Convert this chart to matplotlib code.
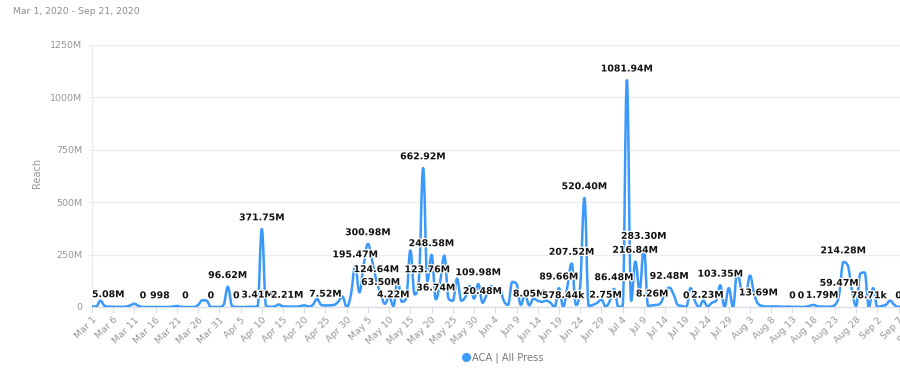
import datetime as dt
import numpy as np
import matplotlib
matplotlib.use("Agg")
import matplotlib.pyplot as plt
from matplotlib.path import Path
from matplotlib.patches import PathPatch
from matplotlib.lines import Line2D
import matplotlib.dates as mdates
import matplotlib.patheffects as pe

# ---------------- data ----------------
title_text = "Mar 1, 2020 - Sep 21, 2020"
series_name = "ACA | All Press"
y_label = "Reach"
start_date = dt.date(2020, 3, 1)

# daily reach in millions, Mar 1 .. Sep 21 2020
reach_m = [
    2, 3, 30, 5.08, 2, 1, 1, 1, 2, 8,                 # Mar 1-10
    15, 5, 0, 0, 0, 0, 0.000998, 0, 0, 2,             # Mar 11-20
    5, 1, 0, 0, 0, 10, 32, 30, 0, 0,                  # Mar 21-30
    0, 10, 96.62, 5, 0, 0, 0, 1, 1, 3.41,             # Mar 31-Apr 9
    371.75, 5, 1, 3, 12, 3, 2.21, 2, 2, 4,            # Apr 10-19
    8, 3, 10, 38, 10, 7.52, 8, 10, 25, 50,            # Apr 20-29
    0, 60, 195.47, 70, 200, 300.98, 220, 124.64, 63.50, 15,   # Apr 30-May 9
    50, 4.22, 130, 25, 40, 270, 60, 130, 662.92, 123.76,      # May 10-19
    248.58, 36.74, 120, 245, 40, 30, 135, 30, 50, 100,        # May 20-29
    40, 109.98, 20.48, 60, 100, 70, 90, 30, 10, 120,          # May 30-Jun 8
    110, 10, 60, 8.05, 40, 30, 25, 30, 20, 0,                 # Jun 9-18
    89.66, 0.57844, 100, 207.52, 10, 100, 520.40, 5, 10, 20,  # Jun 19-28
    35, 2.75, 30, 86.48, 0, 5, 1081.94, 30, 216.84, 80,       # Jun 29-Jul 8
    283.30, 5, 8.26, 10, 20, 70, 92.48, 60, 10, 5,            # Jul 9-18
    0, 90, 30, 0, 30, 2.23, 20, 30, 103.35, 0,                # Jul 19-28
    90, 0, 170, 80, 60, 150, 60, 13.69, 5, 2,                 # Jul 29-Aug 7
    2, 3, 2, 1, 2, 0, 1, 0, 1, 5,                             # Aug 8-17
    10, 3, 1.79, 1, 2, 10, 59.47, 214.28, 200, 80,            # Aug 18-27
    5, 160, 165, 0.07871, 90, 0, 5, 10, 30, 10,               # Aug 28-Sep 6
    0, 5, 10, 3, 2, 1, 2, 5, 3, 1,                            # Sep 7-16
    2, 4, 2, 1, 3,                                            # Sep 17-21
]

# days whose data labels are visible (others hidden as overlapping)
labeled_days = [3, 12, 16, 22, 28, 32, 34, 39, 40, 46, 55, 62, 65, 67, 68, 71,
                78, 79, 80, 81, 91, 92, 103, 110, 111, 113, 116, 121, 123, 126,
                128, 130, 132, 136, 140, 145, 148, 157, 165, 167, 172, 176,
                177, 183, 190]

y_ticks_m = [0, 250, 500, 750, 1000, 1250]
x_tick_step_days = 5

# ---------------- styling ----------------
LINE_COLOR = "#3a99fb"
GRAY = "#969696"
GRID = "#ececec"
AXIS = "#d7dce6"

plt.rcParams["font.family"] = ["DejaVu Sans"]

dates = [start_date + dt.timedelta(days=i) for i in range(len(reach_m))]
x = mdates.date2num(dates)
y = np.array(reach_m) * 1e6


def hc_spline_path(xs, ys, smoothing=1.5):
    """Highcharts-style spline as cubic Bezier path."""
    n = len(xs)
    denom = smoothing + 1
    lc = np.column_stack([xs, ys]).astype(float)
    rc = lc.copy()
    for i in range(1, n - 1):
        lx, ly, px, py, nx, ny = xs[i - 1], ys[i - 1], xs[i], ys[i], xs[i + 1], ys[i + 1]
        lcx = (smoothing * px + lx) / denom
        lcy = (smoothing * py + ly) / denom
        rcx = (smoothing * px + nx) / denom
        rcy = (smoothing * py + ny) / denom
        if rcx != lcx:
            corr = ((rcy - lcy) * (rcx - px)) / (rcx - lcx) + py - rcy
            lcy += corr
            rcy += corr
        if lcy > ly and lcy > py:
            lcy = max(ly, py); rcy = 2 * py - lcy
        elif lcy < ly and lcy < py:
            lcy = min(ly, py); rcy = 2 * py - lcy
        if rcy > ny and rcy > py:
            rcy = max(ny, py); lcy = 2 * py - rcy
        elif rcy < ny and rcy < py:
            rcy = min(ny, py); lcy = 2 * py - rcy
        lc[i] = (lcx, lcy)
        rc[i] = (rcx, rcy)
    verts = [(xs[0], ys[0])]
    codes = [Path.MOVETO]
    for i in range(1, n):
        verts += [tuple(rc[i - 1]), tuple(lc[i]), (xs[i], ys[i])]
        codes += [Path.CURVE4] * 3
    return Path(verts, codes)


def fmt_value(v):
    if v >= 1e6:
        return f"{v / 1e6:.2f}M"
    if v >= 1e3:
        return f"{v / 1e3:.2f}k"
    return f"{v:.0f}"


fig = plt.figure(figsize=(9, 3.82), dpi=100)
ax = fig.add_axes([92 / 900, 75 / 382, 866 / 900, 262 / 382])

ax.add_patch(PathPatch(hc_spline_path(x, y), fill=False, edgecolor=LINE_COLOR,
                       linewidth=1.8, capstyle="round", joinstyle="round", zorder=3))
ax.set_xlim(x[0], x[-1])
ax.set_ylim(0, y_ticks_m[-1] * 1e6)

# y axis
ax.set_yticks([v * 1e6 for v in y_ticks_m])
ax.set_yticklabels([f"{v}M" if v else "0" for v in y_ticks_m])
ax.yaxis.grid(True, color=GRID, linewidth=0.9)
ax.set_axisbelow(True)
ax.tick_params(axis="y", length=3, width=0.8, color=GRID, pad=4,
               labelsize=6.8, labelcolor=GRAY)
ax.set_ylabel(y_label, fontsize=7.0, color=GRAY)
ax.yaxis.set_label_coords(-50 / 866, 0.51)

# x axis
tick_idx = list(range(0, len(dates), x_tick_step_days))
ax.set_xticks([x[i] for i in tick_idx])
ax.set_xticklabels([f"{dates[i]:%b} {dates[i].day}" for i in tick_idx],
                   rotation=45, ha="right", rotation_mode="anchor")
ax.tick_params(axis="x", length=4, width=0.8, color=AXIS, pad=2,
               labelsize=6.8, labelcolor=GRAY)

for s in ["top", "right"]:
    ax.spines[s].set_visible(False)
ax.spines["left"].set_color(GRID)
ax.spines["left"].set_linewidth(0.8)
ax.spines["bottom"].set_color(AXIS)
ax.spines["bottom"].set_linewidth(0.9)

# data labels
anns = []
for d in labeled_days:
    t = ax.annotate(fmt_value(y[d]), (x[d], y[d]), xytext=(0, 6.3),
                    textcoords="offset points", ha="center", va="baseline",
                    fontsize=6.75, fontweight="bold", color="#111111", zorder=5,
                    annotation_clip=False)
    t.set_path_effects([pe.withStroke(linewidth=1.8, foreground="white")])
    anns.append(t)

# title
fig.text(13 / 900, 1 - 11 / 382, title_text, fontsize=6.7, color="#8c8c8c",
         ha="left", va="center")

# legend
handle = Line2D([], [], marker="o", linestyle="none", color=LINE_COLOR,
                markersize=5.5)
fig.legend([handle], [series_name], loc="center",
           bbox_to_anchor=(503 / 900, 1 - 358 / 382), frameon=False,
           handlelength=0.6, handletextpad=0.35, fontsize=7.1,
           labelcolor="#7a7a7a")

# keep data labels inside the plot area on the left (Highcharts justify)
fig.canvas.draw()
r = fig.canvas.get_renderer()
axbb = ax.get_window_extent(r)
for t in anns:
    bb = t.get_window_extent(r)
    if bb.x0 < axbb.x0:
        shift = (axbb.x0 - bb.x0) * 72 / fig.dpi
        t.xyann = (t.xyann[0] + shift, t.xyann[1])

fig.savefig("out.png", dpi=100)
